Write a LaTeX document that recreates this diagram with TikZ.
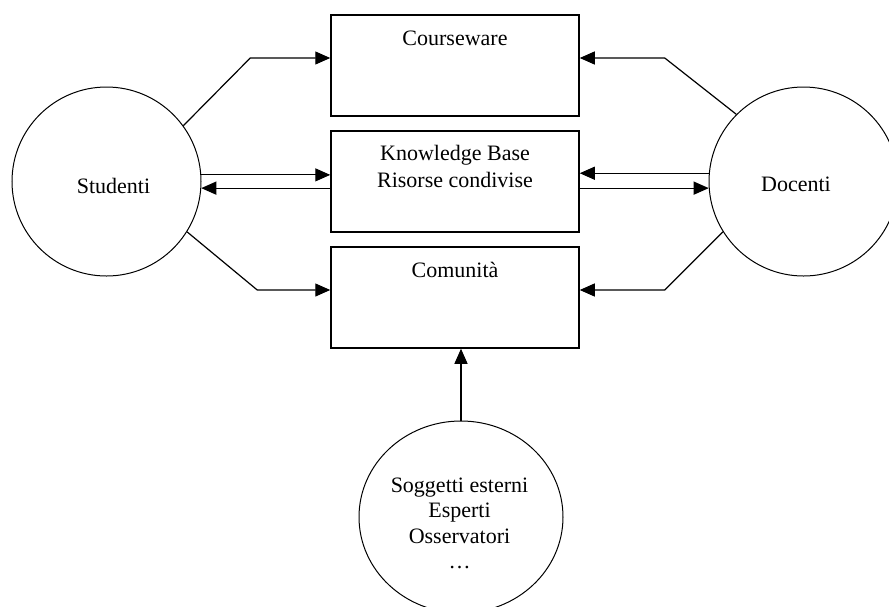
\documentclass[tikz,border=0pt]{standalone}
\usepackage{fontspec}
\setmainfont{Liberation Serif}
\usetikzlibrary{arrows.meta,shapes.geometric}
\begin{document}
\begin{tikzpicture}[x=1pt,y=-1pt,
  every node/.style={font=\fontsize{22}{27}\selectfont},
  box/.style={draw, line width=1.5pt, rectangle, minimum width=248pt, minimum height=101pt, inner sep=0pt},
  actor/.style={draw, line width=1pt, ellipse, inner sep=0pt},
  caption/.style={align=center, inner sep=0pt},
  link/.style={line width=1.2pt, -{Triangle[length=15pt,width=13pt]}},
]
\useasboundingbox (0,0) rectangle (889,606);
\fill[white] (0,0) rectangle (889,606);
\clip (0,0) rectangle (889,606);

% three central blocks
\node[box] (cw) at (455,65.5) {};
\node[box] (kb) at (455,181.5) {};
\node[box] (cm) at (455,297.5) {};
\node[caption] (cwt) at (455,38.5) {Courseware};
\node[caption] (kbt) at (455,166) {Knowledge Base\\Risorse condivise};
\node[caption] (cmt) at (455,269.5) {Comunità};

% actors
\node[actor, minimum width=189pt, minimum height=189pt] (st) at (106.5,181.5) {};
\node[actor, minimum width=189pt, minimum height=189pt] (dc) at (803.5,181.5) {};
\node[actor, minimum width=204pt, minimum height=192pt] (ex) at (461,517) {};
\node[caption] (stt) at (113.5,185.5) {Studenti};
\node[caption] (dct) at (796,184.5) {Docenti};
\node[caption, font=\fontsize{22}{25.3}\selectfont] (ext) at (459.5,523.5)
  {Soggetti esterni\\Esperti\\Osservatori\\…};

% Studenti links
\draw[link] (st.36.7) -- ([xshift=-80pt,yshift=7.5pt]cw.west) -- ([yshift=7.5pt]cw.west);
\draw[link] (st.4.55) -- (st.4.55 -| kb.west);
\draw[link] (kb.west |- st.-4.55) -- (st.-4.55);
\draw[link] (st.-32.6) -- ([xshift=-73pt,yshift=7.5pt]cm.west) -- ([yshift=7.5pt]cm.west);

% Docenti links
\draw[link] (dc.135) -- ([xshift=85pt,yshift=7.5pt]cw.east) -- ([yshift=7.5pt]cw.east);
\draw[link] (dc.175.45) -- (dc.175.45 -| kb.east);
\draw[link] (kb.east |- dc.184.55) -- (dc.184.55);
\draw[link] (dc.212) -- ([xshift=85pt,yshift=7.5pt]cm.east) -- ([yshift=7.5pt]cm.east);

% external subjects
\draw[link] (ex.north) -- (ex.north |- cm.south);
\end{tikzpicture}
\end{document}
